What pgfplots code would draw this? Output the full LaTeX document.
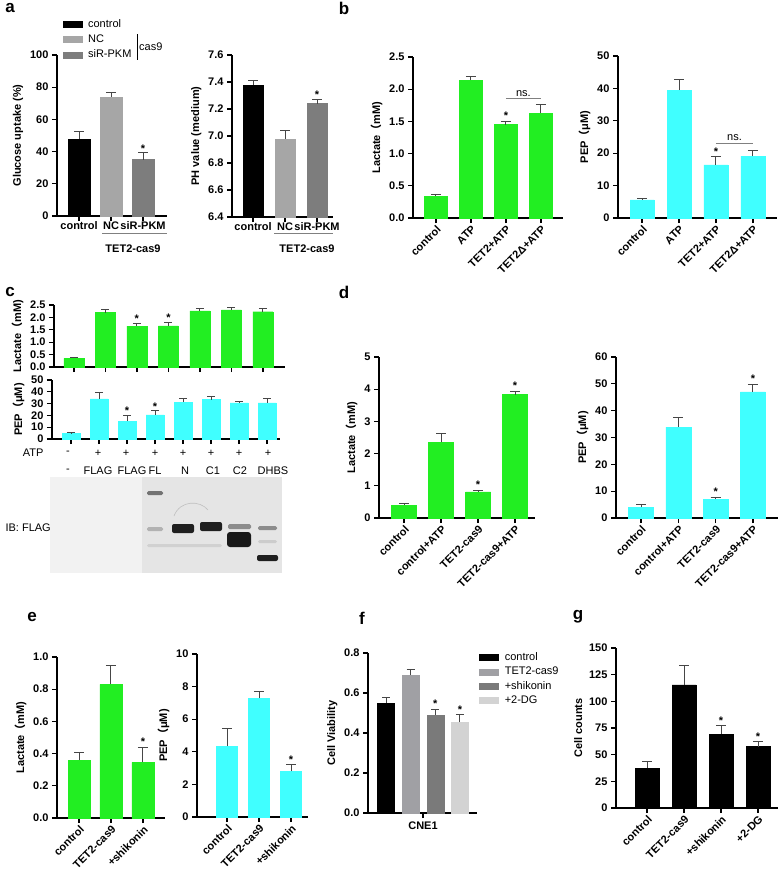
\documentclass[border=0pt]{standalone}
\usepackage{fontspec}
\setmainfont{Liberation Sans}
\newfontfamily\cjk{Noto Sans CJK SC}
\usepackage{pgfplots}
\pgfplotsset{compat=1.18}
\definecolor{bgreen}{RGB}{34,238,34}
\definecolor{bcyan}{RGB}{64,255,255}
\definecolor{errc}{RGB}{70,70,70}
\definecolor{gNC}{RGB}{166,166,166}
\definecolor{gPKM}{RGB}{125,125,125}
\definecolor{gTET}{RGB}{160,160,164}
\definecolor{gSHI}{RGB}{122,122,122}
\definecolor{gDG}{RGB}{211,211,211}
\newcommand{\fs}{\fontsize{11}{12.5}\selectfont}
\newcommand{\lp}{{\cjk （}}
\tikzset{sig/.style={font=\bfseries\fs, inner sep=0pt, anchor=south}}
\pgfplotsset{
  gp/.style={
    scale only axis, anchor=south west,
    axis x line*=bottom, axis y line*=left,
    axis line style={line width=1.6pt, black, -},
    tick pos=left, tick align=outside,
    major tick length=5pt,
    tick style={line width=1.3pt, black},
    ybar, ymin=0, enlargelimits=false,
    clip mode=individual,
    /pgf/number format/assume math mode=true,
    tick label style={font=\bfseries\fs},
    label style={font=\bfseries\fs},
    error bars/y dir=plus, error bars/y explicit,
    error bars/error bar style={draw=errc, line width=1pt},
    error bars/error mark options={draw=errc, line width=1pt, mark size=5pt, rotate=90},
  },
  dec1/.style={yticklabel style={/pgf/number format/fixed, /pgf/number format/fixed zerofill, /pgf/number format/precision=1}},
  rot/.style={xticklabel style={rotate=45, anchor=north east, inner sep=1pt}},
  sleg/.style={legend cell align=left,
    legend image code/.code={\fill[##1] (0pt,-3pt) rectangle (19pt,3pt);}},
}
\begin{document}
\begin{tikzpicture}
\path[use as bounding box] (0,0) rectangle (779pt,-871pt);
% panel letters
\foreach \l/\x/\y in {a/10/8, b/344/8, c/10/292, d/344/292, e/32/617, f/362/618, g/578/617}
  \node[font=\bfseries\fontsize{17}{17}\selectfont] at (\x pt,-\y pt) {\l};

% ---------- a: glucose uptake
\begin{axis}[gp, sleg, at={(57pt,-216pt)}, width=110pt, height=161pt,
  xmin=-0.69, xmax=2.75, ymax=100, ytick={0,20,40,60,80,100},
  xtick={0,1,2}, xticklabels={control,NC,siR-PKM}, bar width=22pt,
  xticklabel style={inner sep=0.5pt},
  ylabel={Glucose uptake (\%)},
  legend style={draw=none, fill=none, at={(0.05,1.235)}, anchor=north west, font=\fs, inner sep=0pt, row sep=2pt,
    /tikz/every odd column/.append style={column sep=4pt}}]
\addplot[fill=black, draw=black, bar shift=0pt] coordinates {(0,48) +- (0,4.3)};
\addplot[fill=gNC, draw=gNC, bar shift=0pt] coordinates {(1,74) +- (0,3)};
\addplot[fill=gPKM, draw=gPKM, bar shift=0pt] coordinates {(2,35) +- (0,4.3)};
\legend{control,NC,siR-PKM}
\node[sig] at (axis cs:2,39.5) {*};
\end{axis}
\draw[line width=0.8pt] (137pt,-34pt) -- (137pt,-60pt);
\node[font=\fs, anchor=west, inner sep=1pt] at (138pt,-47pt) {cas9};
\draw[line width=0.8pt, gray] (102pt,-233pt) -- (167pt,-233pt);
\node[font=\bfseries\fs] at (133pt,-249pt) {TET2-cas9};

% ---------- a: pH
\begin{axis}[gp, dec1, at={(232pt,-217pt)}, width=101pt, height=162pt,
  xmin=-0.66, xmax=2.5, ymin=6.4, ymax=7.6, ytick={6.4,6.6,6.8,7.0,7.2,7.4,7.6},
  xtick={0,1,2}, xticklabels={control,NC,siR-PKM}, bar width=20pt,
  xticklabel style={inner sep=0.5pt},
  ylabel={PH value (medium)}]
\addplot[fill=black, draw=black, bar shift=0pt] coordinates {(0,7.38) +- (0,0.03)};
\addplot[fill=gNC, draw=gNC, bar shift=0pt] coordinates {(1,6.98) +- (0,0.06)};
\addplot[fill=gPKM, draw=gPKM, bar shift=0pt] coordinates {(2,7.24) +- (0,0.03)};
\node[sig] at (axis cs:2,7.275) {*};
\end{axis}
\draw[line width=0.8pt, gray] (274pt,-233pt) -- (333pt,-233pt);
\node[font=\bfseries\fs] at (307pt,-249pt) {TET2-cas9};

% ---------- b: lactate
\begin{axis}[gp, dec1, rot, at={(413pt,-218pt)}, width=150pt, height=161pt,
  xmin=-0.657, xmax=3.63, ymax=2.5, ytick={0,0.5,1,1.5,2,2.5},
  xtick={0,1,2,3}, xticklabels={control,ATP,TET2+ATP,TET2Δ+ATP}, bar width=23pt,
  ylabel={Lactate\lp mM)}]
\addplot[fill=bgreen, draw=bgreen] coordinates {(0,0.34) +- (0,0.03) (1,2.14) +- (0,0.06) (2,1.45) +- (0,0.05) (3,1.63) +- (0,0.13)};
\draw[gray, line width=0.8pt] (axis cs:2,1.85) -- (axis cs:3,1.85);
\node[font=\fs, anchor=south, inner sep=2pt] at (axis cs:2.5,1.85) {ns.};
\node[sig] at (axis cs:2,1.52) {*};
\end{axis}

% ---------- b: PEP
\begin{axis}[gp, rot, at={(618pt,-218pt)}, width=159pt, height=162pt,
  xmin=-0.65, xmax=3.65, ymax=50, ytick={0,10,20,30,40,50},
  xtick={0,1,2,3}, xticklabels={control,ATP,TET2+ATP,TET2Δ+ATP}, bar width=24pt,
  ylabel={PEP\lp μM)}]
\addplot[fill=bcyan, draw=bcyan] coordinates {(0,5.6) +- (0,0.5) (1,39.5) +- (0,3.2) (2,16.4) +- (0,2.5) (3,19.1) +- (0,1.8)};
\draw[gray, line width=0.8pt] (axis cs:2,23.1) -- (axis cs:3,23.1);
\node[font=\fs, anchor=south, inner sep=2pt] at (axis cs:2.5,23.1) {ns.};
\node[sig] at (axis cs:2,19.2) {*};
\end{axis}

% ---------- c: lactate
\begin{axis}[gp, dec1, at={(54pt,-367pt)}, width=231pt, height=62pt,
  xmin=-0.63, xmax=6.7, ymax=2.5, ytick={0,0.5,1,1.5,2,2.5},
  xtick={0,1,2,3,4,5,6}, xticklabels={}, bar width=20pt,
  error bars/error mark options={draw=errc, line width=1pt, mark size=4pt, rotate=90},
  ylabel={Lactate\lp mM)}]
\addplot[fill=bgreen, draw=bgreen] coordinates {(0,0.35) +- (0,0.05) (1,2.19) +- (0,0.13) (2,1.65) +- (0,0.11) (3,1.66) +- (0,0.14) (4,2.26) +- (0,0.09) (5,2.30) +- (0,0.09) (6,2.23) +- (0,0.13)};
\node[sig] at (axis cs:2,1.78) {*};
\node[sig] at (axis cs:3,1.82) {*};
\end{axis}

% ---------- c: PEP
\begin{axis}[gp, at={(52pt,-439pt)}, width=228pt, height=59pt,
  xmin=-0.68, xmax=7.46, ymax=50, ytick={0,10,20,30,40,50},
  xtick={0,1,2,3,4,5,6,7}, xticklabels={}, bar width=18pt,
  error bars/error mark options={draw=errc, line width=1pt, mark size=4pt, rotate=90},
  ylabel={PEP\lp μM)}]
\addplot[fill=bcyan, draw=bcyan] coordinates {(0,4.5) +- (0,1.4) (1,34) +- (0,5.6) (2,15.2) +- (0,5) (3,20.5) +- (0,3.4) (4,31.2) +- (0,3.4) (5,33.4) +- (0,2.3) (6,30.6) +- (0,1.1) (7,30.6) +- (0,4)};
\node[sig] at (axis cs:2,20.5) {*};
\node[sig] at (axis cs:3,24.2) {*};
\end{axis}
\node[font=\fs, anchor=east] at (47pt,-453pt) {ATP};
\foreach \x/\t in {68/-, 98/+, 126/+, 155/+, 183/+, 211/+, 239/+, 268/+}
  \node[font=\fs] at (\x pt,-453pt) {\t};
\foreach \x/\t in {68/-, 98/FLAG, 132/FLAG, 155/FL, 185/N, 213/C1, 240/C2, 273/DHBS}
  \node[font=\fs] at (\x pt,-471pt) {\t};
% blot
\fill[black!5] (50pt,-477pt) rectangle (282pt,-573pt);
\fill[black!10] (142pt,-477pt) rectangle (282pt,-573pt);
\fill[black!55, rounded corners=1.5pt] (147pt,-491pt) rectangle (163pt,-495pt);
\fill[black!30, rounded corners=1.5pt] (147pt,-527pt) rectangle (163pt,-531pt);
\fill[black!18, rounded corners=1.5pt] (147pt,-544pt) rectangle (222pt,-547pt);
\fill[black!88, rounded corners=2pt] (172pt,-524pt) rectangle (194pt,-533pt);
\draw[black!25, line width=0.6pt] (174pt,-516pt) .. controls (180pt,-500pt) and (200pt,-500pt) .. (208pt,-510pt);
\fill[black!88, rounded corners=2pt] (200pt,-522pt) rectangle (222pt,-531pt);
\fill[black!45, rounded corners=1.5pt] (228pt,-524pt) rectangle (251pt,-529pt);
\fill[black!90, rounded corners=3pt] (227pt,-532pt) rectangle (251pt,-547pt);
\fill[black!45, rounded corners=1.5pt] (258pt,-526pt) rectangle (277pt,-530pt);
\fill[black!20, rounded corners=1.5pt] (258pt,-540pt) rectangle (277pt,-543pt);
\fill[black!88, rounded corners=2pt] (257pt,-555pt) rectangle (278pt,-561pt);
\node[font=\fs, anchor=west] at (2pt,-528pt) {IB: FLAG};

% ---------- d: lactate
\begin{axis}[gp, rot, at={(379pt,-518pt)}, width=156pt, height=161pt,
  xmin=-0.68, xmax=3.54, ymax=5, ytick={0,1,2,3,4,5},
  xtick={0,1,2,3}, xticklabels={control,control+ATP,TET2-cas9,TET2-cas9+ATP}, bar width=25pt,
  ylabel={Lactate\lp mM)}]
\addplot[fill=bgreen, draw=bgreen] coordinates {(0,0.40) +- (0,0.05) (1,2.35) +- (0,0.26) (2,0.81) +- (0,0.03) (3,3.83) +- (0,0.11)};
\node[sig] at (axis cs:2,0.9) {*};
\node[sig] at (axis cs:3,4.0) {*};
\end{axis}

% ---------- d: PEP
\begin{axis}[gp, rot, at={(616pt,-518pt)}, width=162pt, height=161pt,
  xmin=-0.67, xmax=3.67, ymax=60, ytick={0,10,20,30,40,50,60},
  xtick={0,1,2,3}, xticklabels={control,control+ATP,TET2-cas9,TET2-cas9+ATP}, bar width=25pt,
  ylabel={PEP\lp μM)}]
\addplot[fill=bcyan, draw=bcyan] coordinates {(0,4.0) +- (0,1.0) (1,33.9) +- (0,3.7) (2,7.0) +- (0,0.6) (3,47.0) +- (0,2.7)};
\node[sig] at (axis cs:2,8.3) {*};
\node[sig] at (axis cs:3,50.3) {*};
\end{axis}

% ---------- e: lactate
\begin{axis}[gp, dec1, rot, at={(57pt,-818pt)}, width=108pt, height=161pt,
  xmin=-0.69, xmax=2.69, ymax=1, ytick={0,0.2,0.4,0.6,0.8,1.0},
  xtick={0,1,2}, xticklabels={control,TET2-cas9,+shikonin}, bar width=22pt,
  ylabel={Lactate\lp mM)}]
\addplot[fill=bgreen, draw=bgreen] coordinates {(0,0.36) +- (0,0.045) (1,0.83) +- (0,0.115) (2,0.345) +- (0,0.095)};
\node[sig] at (axis cs:2,0.45) {*};
\end{axis}

% ---------- e: PEP
\begin{axis}[gp, rot, at={(197pt,-817pt)}, width=111pt, height=163pt,
  xmin=-0.94, xmax=2.53, ymax=10, ytick={0,2,4,6,8,10},
  xtick={0,1,2}, xticklabels={control,TET2-cas9,+shikonin}, bar width=21pt,
  ylabel={PEP\lp μM)}]
\addplot[fill=bcyan, draw=bcyan] coordinates {(0,4.35) +- (0,1.07) (1,7.3) +- (0,0.42) (2,2.8) +- (0,0.42)};
\node[sig] at (axis cs:2,3.3) {*};
\end{axis}

% ---------- f: cell viability
\begin{axis}[gp, dec1, sleg, at={(368pt,-813pt)}, width=109pt, height=160pt,
  xmin=-0.73, xmax=3.69, ymax=0.8, ytick={0,0.2,0.4,0.6,0.8},
  xtick={1.5}, xticklabels={CNE1}, bar width=17pt,
  error bars/error mark options={draw=errc, line width=1pt, mark size=4pt, rotate=90},
  ylabel={Cell Viability},
  legend style={draw=none, fill=none, at={(1.02,1.015)}, anchor=north west, font=\fs, inner sep=0pt, row sep=1pt,
    /tikz/every odd column/.append style={column sep=4pt}}]
\addplot[fill=black, draw=black, bar shift=0pt] coordinates {(0,0.55) +- (0,0.028)};
\addplot[fill=gTET, draw=gTET, bar shift=0pt] coordinates {(1,0.69) +- (0,0.03)};
\addplot[fill=gSHI, draw=gSHI, bar shift=0pt] coordinates {(2,0.49) +- (0,0.03)};
\addplot[fill=gDG, draw=gDG, bar shift=0pt] coordinates {(3,0.455) +- (0,0.037)};
\legend{control,TET2-cas9,+shikonin,+2-DG}
\node[sig] at (axis cs:2,0.525) {*};
\node[sig] at (axis cs:3,0.497) {*};
\end{axis}

% ---------- g: cell counts
\begin{axis}[gp, rot, at={(616pt,-808pt)}, width=162pt, height=160pt,
  xmin=-0.84, xmax=3.54, ymax=150, ytick={0,25,50,75,100,125,150},
  xtick={0,1,2,3}, xticklabels={control,TET2-cas9,+shikonin,+2-DG}, bar width=24pt,
  ylabel={Cell counts}]
\addplot[fill=black, draw=black] coordinates {(0,37.4) +- (0,6.5) (1,115.5) +- (0,17.8) (2,69.2) +- (0,8.4) (3,57.6) +- (0,5)};
\node[sig] at (axis cs:2,78.5) {*};
\node[sig] at (axis cs:3,63.5) {*};
\end{axis}
\end{tikzpicture}
\end{document}
